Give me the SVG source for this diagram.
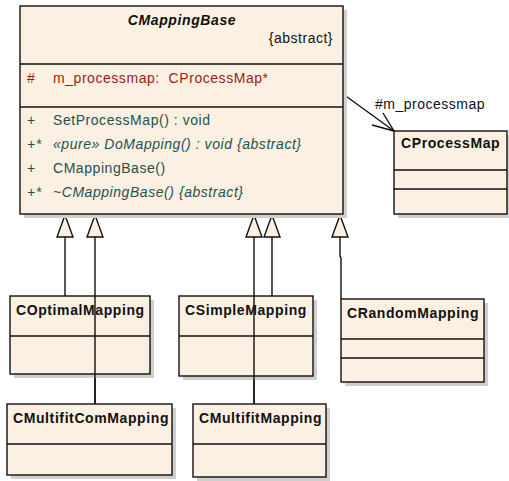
<svg xmlns="http://www.w3.org/2000/svg" width="509" height="481" viewBox="0 0 509 481">
  <style>
    .shadow { fill: #cfcfcf; }
    .box { fill: #fbf0e1; stroke: #111; stroke-width: 1.4; }
    .div { stroke: #111; stroke-width: 1.4; fill: none; }
    .name { font-family: "Liberation Sans", Arial, sans-serif; font-weight: bold; font-size: 14px; letter-spacing: 0.6px; fill: #111; }
    .title { font-family: "Liberation Sans", Arial, sans-serif; font-weight: bold; font-style: italic; font-size: 14px; letter-spacing: 0.6px; fill: #111; }
    .txt { font-family: "Liberation Sans", Arial, sans-serif; font-size: 14px; letter-spacing: 0.5px; fill: #111; }
    .attr { font-family: "Liberation Sans", Arial, sans-serif; font-size: 14px; letter-spacing: 0.55px; fill: #9b1c1c; }
    .op { font-family: "Liberation Sans", Arial, sans-serif; font-size: 14px; letter-spacing: 0.55px; fill: #24504e; }
    .it { font-style: italic; }
    .line { stroke: #111; stroke-width: 1.4; fill: none; }
    .tri { fill: #fbf0e1; stroke: #111; stroke-width: 1.4; }
  </style>

  <!-- connectors -->
  <g id="connectors">
    <!-- generalizations -->
    <polyline class="line" points="65,237 65,296"/>
    <polyline class="line" points="95,237 95,404"/>
    <polyline class="line" points="254,237 254,404"/>
    <polyline class="line" points="272,237 272,296"/>
    <polyline class="line" points="340,237 340,256 341,258 341,299"/>
    <polygon class="tri" points="65,215 57,237 73,237"/>
    <polygon class="tri" points="95,215 87,237 103,237"/>
    <polygon class="tri" points="254,215 246,237 262,237"/>
    <polygon class="tri" points="272,215 264,237 280,237"/>
    <polygon class="tri" points="340,215 332,237 348,237"/>
    <!-- association -->
    <line class="line" x1="343" y1="94" x2="394" y2="131"/>
    <polyline class="line" points="372,125 394,131 383,113"/>
    <text class="txt" x="375" y="109">#m_processmap</text>
  </g>

  <!-- CMappingBase -->
  <g id="CMappingBase">
    <rect class="shadow" x="24" y="10" width="323" height="208"/>
    <rect class="box" x="20" y="6" width="323" height="208"/>
    <line class="div" x1="20" y1="64" x2="343" y2="64"/>
    <line class="div" x1="20" y1="107" x2="343" y2="107"/>
    <text class="title" x="182" y="25" text-anchor="middle">CMappingBase</text>
    <text class="txt" x="333" y="43" text-anchor="end">{abstract}</text>
    <text class="attr" x="27" y="83">#</text>
    <text class="attr" x="53" y="83">m_processmap:&#160; CProcessMap*</text>
    <text class="op" x="27" y="125">+</text>
    <text class="op" x="53" y="125">SetProcessMap() : void</text>
    <text class="op it" x="27" y="149">+*</text>
    <text class="op it" x="53" y="149">«pure» DoMapping() : void {abstract}</text>
    <text class="op" x="27" y="173">+</text>
    <text class="op" x="53" y="173">CMappingBase()</text>
    <text class="op it" x="27" y="197">+*</text>
    <text class="op it" x="53" y="197">~CMappingBase() {abstract}</text>
  </g>

  <!-- CProcessMap -->
  <g id="CProcessMap">
    <rect class="shadow" x="398" y="135" width="113" height="83"/>
    <rect class="box" x="394" y="131" width="113" height="83"/>
    <line class="div" x1="394" y1="170" x2="507" y2="170"/>
    <line class="div" x1="394" y1="189" x2="507" y2="189"/>
    <text class="name" x="401" y="148">CProcessMap</text>
  </g>

  <!-- COptimalMapping -->
  <g id="COptimalMapping">
    <rect class="shadow" x="14" y="300" width="140" height="78"/>
    <rect class="box" x="10" y="296" width="140" height="78"/>
    <line class="div" x1="10" y1="336" x2="150" y2="336"/>
    <text class="name" x="16" y="315">COptimalMapping</text>
  </g>

  <!-- CSimpleMapping -->
  <g id="CSimpleMapping">
    <rect class="shadow" x="183" y="300" width="134" height="80"/>
    <rect class="box" x="179" y="296" width="134" height="80"/>
    <line class="div" x1="179" y1="336" x2="313" y2="336"/>
    <text class="name" x="185" y="315">CSimpleMapping</text>
  </g>

  <!-- CRandomMapping -->
  <g id="CRandomMapping">
    <rect class="shadow" x="345" y="303" width="143" height="83"/>
    <rect class="box" x="341" y="299" width="143" height="83"/>
    <line class="div" x1="341" y1="339" x2="484" y2="339"/>
    <line class="div" x1="341" y1="358" x2="484" y2="358"/>
    <text class="name" x="347" y="318">CRandomMapping</text>
  </g>

  <!-- CMultifitComMapping -->
  <g id="CMultifitComMapping">
    <rect class="shadow" x="11" y="408" width="165" height="71"/>
    <rect class="box" x="7" y="404" width="165" height="71"/>
    <line class="div" x1="7" y1="444" x2="172" y2="444"/>
    <text class="name" x="13" y="423">CMultifitComMapping</text>
  </g>

  <!-- CMultifitMapping -->
  <g id="CMultifitMapping">
    <rect class="shadow" x="197" y="408" width="133" height="73"/>
    <rect class="box" x="193" y="404" width="133" height="73"/>
    <line class="div" x1="193" y1="444" x2="326" y2="444"/>
    <text class="name" x="199" y="423">CMultifitMapping</text>
  </g>

  <!-- lines that cross over the subclass boxes -->
  <g id="crossing-lines">
    <line class="line" x1="95" y1="296" x2="95" y2="404"/>
    <line class="line" x1="254" y1="296" x2="254" y2="404"/>
  </g>
</svg>
